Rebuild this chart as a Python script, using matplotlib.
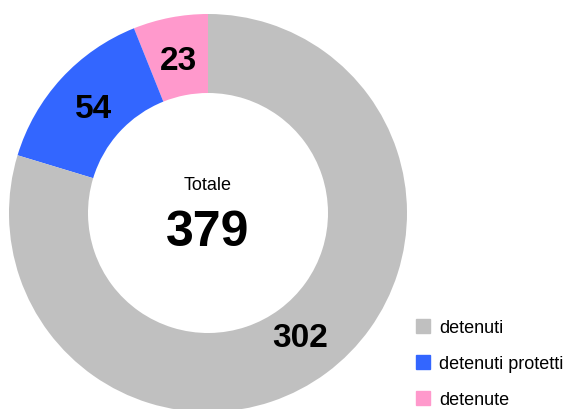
import matplotlib
matplotlib.use("Agg")
import matplotlib.pyplot as plt
import matplotlib.patches as patches

plt.rcParams["font.family"] = ["Liberation Sans", "DejaVu Sans"]

# data (drawn counterclockwise from 12 o'clock)
labels = ["detenute", "detenuti protetti", "detenuti"]
values = [23, 54, 302]
colors = ["#ff99cc", "#3366ff", "#c0c0c0"]
total = sum(values)

fig = plt.figure(figsize=(5.66, 4.10), dpi=100)
ax = fig.add_axes([0, 0, 1, 1])

wedges, texts, autotexts = ax.pie(
    values, colors=colors, startangle=90, counterclock=True,
    center=(208, 196), radius=199, frame=True,
    wedgeprops=dict(width=79, linewidth=0),
    autopct=lambda p: f"{round(p * total / 100)}", pctdistance=0.78,
    textprops=dict(fontsize=24, fontweight="bold", color="black"))
ax.set_xlim(0, 566)
ax.set_ylim(0, 410)
ax.set_aspect("equal")
ax.axis("off")

ax.text(208, 224, "Totale", ha="center", va="center", fontsize=13)
ax.text(208, 177, str(total), ha="center", va="center", fontsize=36, fontweight="bold")

# legend, same order as the original: detenuti, detenuti protetti, detenute
order = [2, 1, 0]
handles = [patches.Patch(color=colors[i]) for i in order]
ax.legend(handles, [labels[i] for i in order], loc="upper left",
          bbox_to_anchor=(416 / 566, 1 - 320 / 410), frameon=False,
          fontsize=13, handlelength=0.8, handleheight=0.8,
          handletextpad=0.5, labelspacing=1.05, borderpad=0, borderaxespad=0)

fig.savefig("out.png", dpi=100)
